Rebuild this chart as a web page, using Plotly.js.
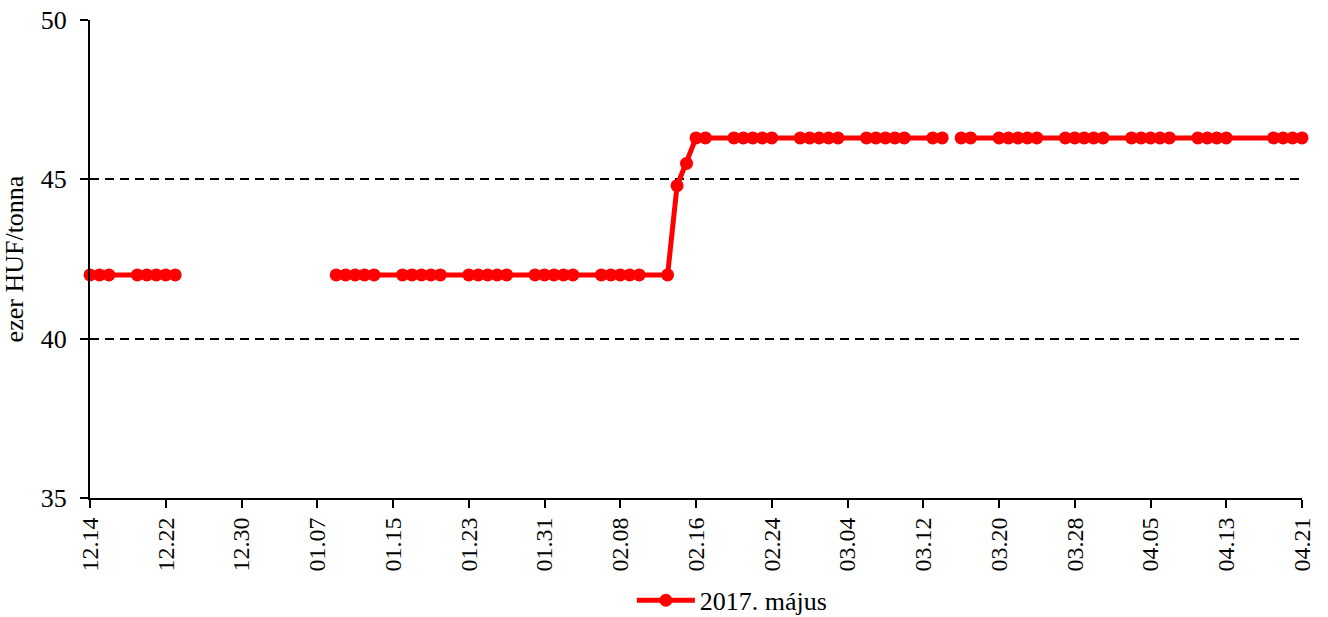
<!DOCTYPE html>
<html>
<head>
<meta charset="utf-8">
<script src="https://cdn.plot.ly/plotly-3.0.1.min.js"></script>
<style>
html,body{margin:0;padding:0;background:#fff;}
#chart{width:1328px;height:617px;}
</style>
</head>
<body>
<div id="chart"></div>
<script>
// Dates (business days; holidays kept as empty values)
const dates = [
  '2016-12-14','2016-12-15','2016-12-16','2016-12-19','2016-12-20','2016-12-21','2016-12-22','2016-12-23',
  '2016-12-26','2016-12-27','2016-12-28','2016-12-29','2016-12-30',
  '2017-01-02','2017-01-03','2017-01-04','2017-01-05','2017-01-06',
  '2017-01-09','2017-01-10','2017-01-11','2017-01-12','2017-01-13',
  '2017-01-16','2017-01-17','2017-01-18','2017-01-19','2017-01-20',
  '2017-01-23','2017-01-24','2017-01-25','2017-01-26','2017-01-27',
  '2017-01-30','2017-01-31','2017-02-01','2017-02-02','2017-02-03',
  '2017-02-06','2017-02-07','2017-02-08','2017-02-09','2017-02-10',
  '2017-02-13','2017-02-14','2017-02-15','2017-02-16','2017-02-17',
  '2017-02-20','2017-02-21','2017-02-22','2017-02-23','2017-02-24',
  '2017-02-27','2017-02-28','2017-03-01','2017-03-02','2017-03-03',
  '2017-03-06','2017-03-07','2017-03-08','2017-03-09','2017-03-10',
  '2017-03-13','2017-03-14','2017-03-15','2017-03-16','2017-03-17',
  '2017-03-20','2017-03-21','2017-03-22','2017-03-23','2017-03-24',
  '2017-03-27','2017-03-28','2017-03-29','2017-03-30','2017-03-31',
  '2017-04-03','2017-04-04','2017-04-05','2017-04-06','2017-04-07',
  '2017-04-10','2017-04-11','2017-04-12','2017-04-13',
  '2017-04-18','2017-04-19','2017-04-20','2017-04-21'
];
const prices = [
  42,42,42,42,42,42,42,42,
  null,null,null,null,null,
  null,null,null,null,null,
  42,42,42,42,42,
  42,42,42,42,42,
  42,42,42,42,42,
  42,42,42,42,42,
  42,42,42,42,42,
  42,44.8,45.5,46.3,46.3,
  46.3,46.3,46.3,46.3,46.3,
  46.3,46.3,46.3,46.3,46.3,
  46.3,46.3,46.3,46.3,46.3,
  46.3,46.3,null,46.3,46.3,
  46.3,46.3,46.3,46.3,46.3,
  46.3,46.3,46.3,46.3,46.3,
  46.3,46.3,46.3,46.3,46.3,
  46.3,46.3,46.3,46.3,
  46.3,46.3,46.3,46.3
];
const seriesName = '2017. május';
const yTitle = 'ezer HUF/tonna';
const xStart = '2016-12-14';
const xEnd = '2017-04-21';

const FONT = '"Liberation Serif", "Times New Roman", serif';

const trace = {
  x: dates, y: prices, type: 'scatter', mode: 'lines+markers',
  name: seriesName,
  connectgaps: false,
  cliponaxis: false,
  line: {color: '#ff0000', width: 5},
  marker: {color: '#ff0000', size: 13}
};

const layout = {
  width: 1328, height: 617,
  margin: {l: 90, r: 26, t: 20, b: 119, autoexpand: false},
  paper_bgcolor: '#fff', plot_bgcolor: '#fff',
  font: {family: FONT, color: '#000', size: 25},
  showlegend: true,
  legend: {
    orientation: 'h', x: 0.53, xanchor: 'center', y: -0.165, yanchor: 'top',
    font: {family: FONT, size: 26, color: '#000'}, itemwidth: 58
  },
  xaxis: {
    type: 'date', range: [xStart, xEnd],
    tick0: xStart, dtick: 8 * 86400000, tickformat: '%m.%d',
    tickangle: -90, ticks: 'outside', ticklen: 8, tickwidth: 2, tickcolor: '#000',
    showline: true, linecolor: '#000', linewidth: 2,
    showgrid: false, zeroline: false,
    tickfont: {family: FONT, size: 24, color: '#000'},
    automargin: false
  },
  yaxis: {
    range: [35, 50], dtick: 5, tick0: 35,
    ticks: 'outside', ticklen: 8, tickwidth: 2, tickcolor: '#000',
    ticklabelstandoff: 8,
    showline: true, linecolor: '#000', linewidth: 2,
    showgrid: true, gridcolor: '#000', gridwidth: 2, griddash: '9px,6px',
    zeroline: false,
    tickfont: {family: FONT, size: 26, color: '#000'},
    title: {text: yTitle, font: {family: FONT, size: 26, color: '#000'}, standoff: 10},
    automargin: false
  }
};

Plotly.newPlot('chart', [trace], layout, {displayModeBar: false, staticPlot: true});
</script>
</body>
</html>
